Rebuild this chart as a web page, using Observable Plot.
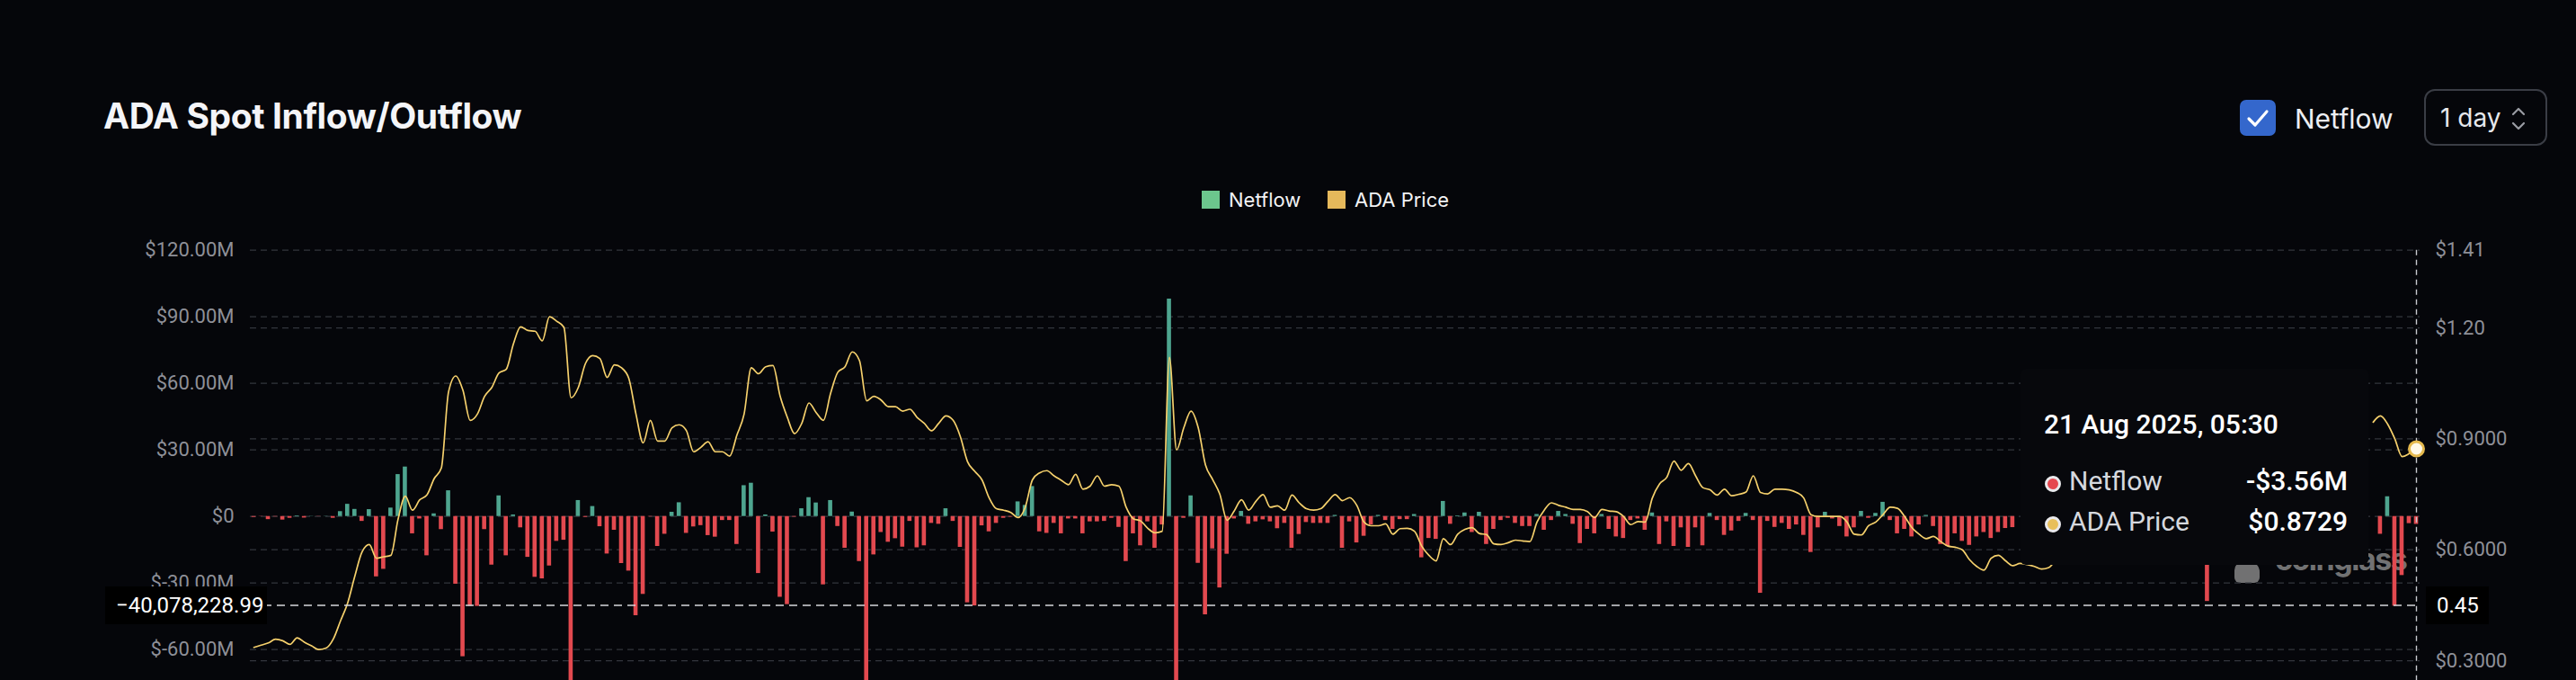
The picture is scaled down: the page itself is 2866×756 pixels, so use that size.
<!DOCTYPE html>
<html>
<head>
<meta charset="utf-8">
<script src="https://cdn.jsdelivr.net/npm/d3@7"></script>
<script src="https://cdn.jsdelivr.net/npm/@observablehq/plot@0.6"></script>
<style>
  html, body { margin: 0; padding: 0; background: #05060a; width: 2866px; height: 756px; overflow: hidden; }
  #page { position: relative; width: 2866px; height: 756px; }
  .abs { position: absolute; white-space: nowrap; }
  #chart { position: absolute; left: 0; top: 250px; z-index: 1; }
  #watermark { z-index: 0; }
  #tip { z-index: 2; }
  .xlabel { z-index: 3; background: #000; color: #fff; font: 400 24px Roboto, sans-serif; line-height: 42px; height: 42px; }
  .tiptext { font: 400 30px Roboto, sans-serif; line-height: 40px; }
</style>
</head>
<body>
<div id="page">
  <div class="abs" style="left:115px;top:106px;font:700 39px Inter, sans-serif;color:#f4f5f8;line-height:46px;letter-spacing:-0.4px">ADA Spot Inflow/Outflow</div>

  <div class="abs" style="left:2492px;top:111px;width:40px;height:40px;border-radius:7px;background:#3467cc">
    <svg width="40" height="40"><path d="M10 21 L17 28 L30 13" fill="none" stroke="#fff" stroke-width="3.2" stroke-linecap="round" stroke-linejoin="round"/></svg>
  </div>
  <div class="abs" style="left:2553px;top:111px;font:400 30px Inter, sans-serif;color:#eceef2;line-height:42px">Netflow</div>
  <div class="abs" style="left:2697px;top:99px;width:133px;height:59px;border:2px solid #3a3d45;border-radius:12px"></div>
  <div class="abs" style="left:2715px;top:110px;font:400 28px Inter, sans-serif;color:#e6e8ec;line-height:42px">1 day</div>
  <svg class="abs" style="left:2792px;top:114px" width="20" height="36">
    <path d="M4 13 L10 7 L16 13" fill="none" stroke="#9a9ca3" stroke-width="2.2" stroke-linecap="round" stroke-linejoin="round"/>
    <path d="M4 23 L10 29 L16 23" fill="none" stroke="#9a9ca3" stroke-width="2.2" stroke-linecap="round" stroke-linejoin="round"/>
  </svg>

  <div class="abs" style="left:1337px;top:212px;width:20px;height:20px;background:#6cc68d"></div>
  <div class="abs" style="left:1367px;top:207px;font:400 22px Inter, sans-serif;color:#f2f3f5;line-height:30px">Netflow</div>
  <div class="abs" style="left:1477px;top:212px;width:20px;height:20px;background:#e6b95b"></div>
  <div class="abs" style="left:1507px;top:207px;font:400 22px Inter, sans-serif;color:#f2f3f5;line-height:30px">ADA Price</div>

  <div id="watermark" class="abs" style="left:2486px;top:600px;">
    <div class="abs" style="left:0px;top:24px;width:28px;height:24px;border-radius:10px 12px 6px 6px;background:rgba(150,150,150,0.75)"></div>
    <div class="abs" style="left:45px;top:0px;font:700 34px Inter, sans-serif;color:rgba(150,150,150,0.75);line-height:44px;letter-spacing:-1.5px">coinglass</div>
  </div>

  <div id="chart"></div>

  <div id="tip" class="abs" style="left:2248px;top:410px;width:387px;height:218px;background:#07080c;border-radius:6px">
    <div id="tipDate" class="abs tiptext" style="left:26px;top:42px;font-weight:500;color:#fff"></div>
    <div class="abs" style="left:27px;top:119px;width:12px;height:12px;border-radius:50%;background:#e5474f;border:3px solid #e9e9ec"></div>
    <div id="tipL1" class="abs tiptext" style="left:54px;top:105px;color:#d5d8de"></div>
    <div id="tipV1" class="abs tiptext" style="right:23px;top:105px;font-weight:500;color:#fff"></div>
    <div class="abs" style="left:27px;top:164px;width:12px;height:12px;border-radius:50%;background:#e8bf5a;border:3px solid #e9e9ec"></div>
    <div id="tipL2" class="abs tiptext" style="left:54px;top:150px;color:#d5d8de"></div>
    <div id="tipV2" class="abs tiptext" style="right:23px;top:150px;font-weight:500;color:#fff"></div>
  </div>

  <div id="crossLeft" class="abs xlabel" style="left:117px;width:168px;padding-left:12px"></div>
  <div id="crossRight" class="abs xlabel" style="left:2699px;width:58px;padding-left:12px"></div>
</div>

<script>
const N = null;
// Daily netflow in $M, 25 Oct 2024 .. 21 Aug 2025 (null = hidden behind tooltip)
const netflow = [
  -0.4, -0.1, -1.4, -0.2, -1.6, -0.8, 0.3, -0.7, 0.1, -0.1,
  0.1, -0.8, 2.2, 5.5, 3.2, -2.2, 3.1, -27.2, -23.8, 3.8,
  18.9, 22.3, -7.8, -1.1, -17.7, 1.2, -5.9, 11.6, -30.5, -63.2,
  -40.5, -40.5, -5.9, -21.9, 9.3, -17.7, 0.7, -5.1, -18.4, -27.4,
  -28.1, -22.3, -11.2, -10.7, -90, 7.2, -0.4, 4.5, -4.6, -16.9,
  -6.2, -21.2, -24.6, -44.7, -35.1, -0.2, -13.5, -8.0, 1.9, 6.2,
  -7.6, -4.7, -4.1, -8.6, -9.3, -1.8, -1.8, -12.6, 13.9, 15.0,
  -25.7, 0.7, -7.0, -36.4, -39.7, -0.3, 3.5, 8.5, 6.1, -30.8,
  7.2, -4.5, -14.3, 2.0, -20.3, -95, -17.3, -7.2, -11.6, -10.0,
  -13.8, -2.2, -14.1, -13.2, -3.1, -3.5, 3.5, -2.2, -13.9, -38.9,
  -40.3, -4.2, -6.9, -3.1, -0.8, -0.3, 6.6, 5.0, 13.5, -6.9,
  -7.6, -3.1, -7.8, -1.1, -1.1, -7.8, -2.4, -2.4, -2.2, -0.8,
  -4.9, -20.3, -7.8, -13.2, -2.4, -14.3, -3.8, 98.0, -110, -0.8,
  9.3, -21.1, -44.3, -14.6, -32.2, -17.0, -1.1, 2.3, -3.5, -2.4,
  -1.5, -2.4, -5.5, -3.1, -14.3, -8.1, -2.7, -3.1, -3.1, -3.1,
  0.5, -14.3, -2.4, -11.9, -8.9, -3.8, 0.5, -1.8, -5.8, -1.4,
  -1.4, 0.9, -18.6, -9.9, -10.3, 6.8, -3.5, 0.3, 1.6, -7.2,
  1.9, -12.6, -5.8, -1.8, -0.8, -3.1, -4.5, -4.5, 0.9, -6.2,
  -1.8, 2.3, 0.9, -3.5, -12.2, -5.8, -7.8, 0.9, -5.8, -9.2,
  -9.9, -1.8, -1.1, -6.2, 1.6, -12.6, -2.4, -13.5, -5.1, -13.9,
  -5.1, -13.2, 1.4, -1.8, -8.5, -6.5, -2.2, 1.4, -1.8, -34.6,
  -2.2, -4.9, -3.1, -5.8, -3.8, -8.5, -16.2, -5.1, 1.9, -1.1,
  -4.5, -9.2, -5.1, 2.3, -0.8, 1.4, 6.4, -1.8, -7.8, -5.8,
  -9.2, -3.8, 0.5, -4.5, -12.6, -13.5, -7.8, -11.2, -13.0, -9.2,
  -7.2, -9.9, -7.2, -5.4, -5.0, N, N, N, N, N,
  N, N, N, N, N, N, N, N, N, N,
  N, N, N, N, N, N, N, N, N, N,
  N, -38.3, N, N, N, N, N, N, N, N,
  N, N, N, N, N, N, N, N, N, N,
  N, N, N, N, N, -8.0, 8.9, -40.4, -26.6, -3.2,
  -3.56
];
// Daily ADA price in $ (null = hidden behind tooltip)
const price = [
  0.336, 0.342, 0.348, 0.358, 0.354, 0.344, 0.362, 0.350, 0.340, 0.330,
  0.334, 0.358, 0.407, 0.456, 0.529, 0.594, 0.614, 0.577, 0.581, 0.585,
  0.683, 0.745, 0.707, 0.735, 0.748, 0.792, 0.821, 1.027, 1.070, 1.031,
  0.950, 0.967, 1.015, 1.039, 1.078, 1.088, 1.157, 1.203, 1.193, 1.191,
  1.165, 1.230, 1.218, 1.202, 1.011, 1.039, 1.104, 1.125, 1.117, 1.066,
  1.100, 1.092, 1.064, 0.967, 0.889, 0.950, 0.894, 0.894, 0.930, 0.938,
  0.922, 0.865, 0.877, 0.892, 0.865, 0.865, 0.853, 0.910, 0.967, 1.092,
  1.076, 1.095, 1.098, 1.015, 0.958, 0.914, 0.942, 0.997, 0.971, 0.950,
  1.023, 1.080, 1.095, 1.135, 1.112, 1.003, 1.015, 1.005, 0.987, 0.987,
  0.975, 0.980, 0.958, 0.942, 0.922, 0.942, 0.962, 0.950, 0.906, 0.838,
  0.812, 0.789, 0.740, 0.711, 0.707, 0.701, 0.687, 0.715, 0.789, 0.808,
  0.814, 0.800, 0.788, 0.776, 0.804, 0.764, 0.772, 0.800, 0.772, 0.776,
  0.772, 0.715, 0.684, 0.678, 0.658, 0.646, 0.650, 1.120, 0.870, 0.930,
  0.975, 0.930, 0.830, 0.790, 0.750, 0.680, 0.705, 0.735, 0.707, 0.731,
  0.749, 0.715, 0.719, 0.707, 0.748, 0.727, 0.711, 0.707, 0.711, 0.731,
  0.749, 0.733, 0.741, 0.720, 0.675, 0.665, 0.665, 0.670, 0.642, 0.657,
  0.658, 0.650, 0.610, 0.585, 0.570, 0.630, 0.614, 0.642, 0.655, 0.660,
  0.644, 0.641, 0.616, 0.614, 0.619, 0.626, 0.624, 0.622, 0.675, 0.707,
  0.727, 0.720, 0.715, 0.709, 0.709, 0.703, 0.687, 0.709, 0.705, 0.703,
  0.690, 0.668, 0.676, 0.675, 0.740, 0.778, 0.796, 0.840, 0.815, 0.833,
  0.800, 0.768, 0.762, 0.748, 0.764, 0.746, 0.750, 0.756, 0.800, 0.755,
  0.751, 0.764, 0.764, 0.762, 0.755, 0.740, 0.695, 0.690, 0.690, 0.690,
  0.690, 0.675, 0.642, 0.640, 0.665, 0.675, 0.695, 0.715, 0.712, 0.690,
  0.660, 0.642, 0.630, 0.636, 0.622, 0.610, 0.607, 0.600, 0.573, 0.555,
  0.545, 0.577, 0.585, 0.570, 0.557, 0.563, 0.560, 0.555, 0.548, 0.552,
  0.575, N, N, N, N, N, N, N, N, N,
  N, N, N, N, N, N, N, N, N, N,
  N, N, N, N, N, N, N, N, N, N,
  N, N, N, N, N, N, N, N, N, N,
  N, N, N, N, 0.945, 0.962, 0.940, 0.900, 0.852, 0.860,
  0.8729
];
const leftTicks = [120, 90, 60, 30, 0, -30, -60];          // $M
const priceTicks = [1.41, 1.2, 0.9, 0.6, 0.3];
const priceTickLabels = ["$1.41", "$1.20", "$0.9000", "$0.6000", "$0.3000"];
const seriesNames = ["Netflow", "ADA Price"];
const tipDate = "21 Aug 2025, 05:30";
const tipValues = ["-$3.56M", "$0.8729"];
const crossNetflow = -40078228.99;   // $
const crossPriceLabel = "0.45";

// price axis shares the frame: $1.41 at top (= $120M), $0.69 at the $0 line
const yTop = 120, yBottom = -73.9, pTop = 1.41, pZero = 0.69;
const toV = p => (p - pZero) * yTop / (pTop - pZero);
const fmtM = v => v === 0 ? "$0" : "$" + v.toFixed(2) + "M";
const priceVs = priceTicks.map(toV);

const rows = netflow.map((v, i) => ({i, netflow: v, price: price[i]}));
const bars = rows.filter(d => d.netflow != null);
const last = rows[rows.length - 1];

const GRID = {stroke: "#33363d", strokeWidth: 1.3, strokeDasharray: "7,5"};
const chart = Plot.plot({
  width: 2866, height: 506,
  marginTop: 27.7, marginBottom: 0, marginLeft: 278, marginRight: 174,
  style: {background: "transparent", color: "#8e9098", fontFamily: "Roboto, sans-serif", fontSize: "22px", overflow: "visible"},
  x: {domain: [-0.5, netflow.length - 0.5], axis: null},
  y: {domain: [yBottom, yTop], axis: null},
  marks: [
    Plot.ruleY(leftTicks, GRID),
    Plot.ruleY(priceTicks.slice(1), {y: toV, ...GRID}),
    Plot.rect(bars, {
      x1: d => d.i - 0.5, x2: d => d.i + 0.5, y1: 0, y2: "netflow",
      fill: d => d.netflow >= 0 ? "#4ea58f" : "#e2494f",
      insetLeft: 1.7, insetRight: 1.7, clip: true
    }),
    Plot.line(rows, {x: "i", y: d => d.price == null ? NaN : toV(d.price), stroke: "#f5d06c", strokeWidth: 1.7, curve: "monotone-x", clip: true}),
    Plot.ruleY([crossNetflow / 1e6], {stroke: "#d6d7db", strokeWidth: 1.6, strokeDasharray: "9,6"}),
    Plot.ruleX([last.i], {stroke: "#c9cbd0", strokeWidth: 1.4, strokeDasharray: "6,5"}),
    Plot.dot([last], {x: "i", y: d => toV(d.price), r: 8, fill: "#fff9ea", stroke: "#e5b94e", strokeWidth: 3}),
    Plot.axisY(leftTicks, {anchor: "left", tickSize: 0, tickPadding: 18, tickFormat: fmtM, label: null}),
    Plot.axisY(priceVs, {anchor: "right", tickSize: 0, tickPadding: 17, label: null,
      tickFormat: v => priceTickLabels[priceVs.findIndex(q => Math.abs(q - v) < 1e-9)]})
  ]
});
document.getElementById("chart").appendChild(chart);

// overlays placed through the chart's own y scale
const ys = chart.scale("y");
const yCross = 250 + ys.apply(crossNetflow / 1e6);
const cl = document.getElementById("crossLeft");
cl.textContent = d3.format(",.2f")(crossNetflow);
cl.style.top = (yCross - 21) + "px";
const cr = document.getElementById("crossRight");
cr.textContent = crossPriceLabel;
cr.style.top = (yCross - 21) + "px";

document.getElementById("tipDate").textContent = tipDate;
document.getElementById("tipL1").textContent = seriesNames[0];
document.getElementById("tipL2").textContent = seriesNames[1];
document.getElementById("tipV1").textContent = tipValues[0];
document.getElementById("tipV2").textContent = tipValues[1];
</script>
</body>
</html>
